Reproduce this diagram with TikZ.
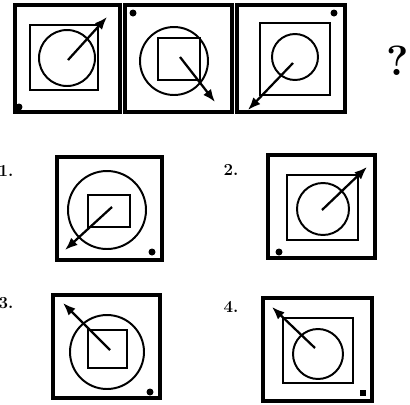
\documentclass[tikz,border=0pt]{standalone}
\usetikzlibrary{arrows.meta}
\begin{document}
\begin{tikzpicture}[x=0.025cm,y=-0.025cm,
    frame/.style={line width=2.2pt},
    figline/.style={line width=1.4pt},
    pointer/.style={line width=1.6pt,-{Latex[length=9pt,width=7pt]}},
    cornerdot/.style={fill=black},
    optlabel/.style={font=\bfseries\large,inner sep=0pt}]
\useasboundingbox (0,0) rectangle (410,404);
% rangee du haut : la suite
\draw[frame] (15,5) rectangle (120,112);
\draw[figline] (30,25) rectangle (98,90);
\draw[figline] (67,58) circle (28);
\draw[pointer] (68,60) -- (107,17);
\fill[cornerdot] (19,107) circle (3.5);

\draw[frame] (125,5) rectangle (232,112);
\draw[figline] (174,61) circle (34);
\draw[figline] (158,38) rectangle (200,80);
\draw[pointer] (180,57) -- (215,102);
\fill[cornerdot] (133,13) circle (3.5);

\draw[frame] (237,5) rectangle (345,112);
\draw[figline] (260,23) rectangle (330,95);
\draw[figline] (295,57) circle (23);
\draw[pointer] (293,63) -- (248,110);
\fill[cornerdot] (334,13) circle (3.5);

\node[font=\bfseries\fontsize{30}{30}\selectfont] (q) at (398,61) {?};

% les reponses
\node[optlabel] (l1) at (6,171) {1.};
\draw[frame] (57,157) rectangle (162,260);
\draw[figline] (107,210) circle (39);
\draw[figline] (88,195) rectangle (130,227);
\draw[pointer] (112,207) -- (65,250);
\fill[cornerdot] (152,252) circle (3.5);

\node[optlabel] (l2) at (231,170) {2.};
\draw[frame] (268,155) rectangle (375,258);
\draw[figline] (287,175) rectangle (358,240);
\draw[figline] (323,209) circle (26);
\draw[pointer] (322,210) -- (367,167);
\fill[cornerdot] (279,252) circle (3.5);

\node[optlabel] (l3) at (6,303) {3.};
\draw[frame] (53,295) rectangle (160,398);
\draw[figline] (107,352) circle (37);
\draw[figline] (88,330) rectangle (127,368);
\draw[pointer] (110,350) -- (63,303);
\fill[cornerdot] (150,392) circle (3.5);

\node[optlabel] (l4) at (231,307) {4.};
\draw[frame] (263,298) rectangle (372,401);
\draw[figline] (283,318) rectangle (353,383);
\draw[figline] (318,354) circle (25);
\draw[pointer] (315,348) -- (272,307);
\fill[cornerdot] (360,390) rectangle (366,396);
\end{tikzpicture}
\end{document}
